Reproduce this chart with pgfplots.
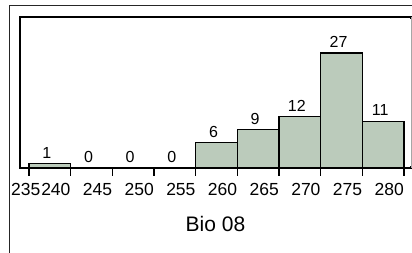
\documentclass[border=0pt]{standalone}
\usepackage{pgfplots}
\pgfplotsset{compat=1.18}
\usepackage{fontspec}
\setmainfont{Liberation Sans}
\definecolor{barfill}{RGB}{187,203,187}
\begin{document}
\begin{tikzpicture}
\useasboundingbox (0,0) rectangle (412pt,253pt);
\draw[line width=1pt, black!85] (9pt,0) -- (9pt,247pt) -- (412pt,247pt);
\begin{axis}[
  at={(20pt,85pt)}, anchor=south west,
  scale only axis, width=391pt, height=151pt,
  xmin=233.92, xmax=280.84, ymin=0, ymax=35.45,
  axis line style={line width=1.3pt, black},
  xtick={240,245,...,280},
  extra x ticks={235},
  extra x tick style={xticklabel style={anchor=north west, xshift=-18pt}},
  xtick pos=bottom, ytick=\empty,
  tick align=outside, major tick length=8pt,
  tick style={line width=1.2pt, black},
  xticklabel style={anchor=north east, inner sep=0pt, yshift=-7pt, font=\fontsize{17.5}{20}\selectfont},
  /pgf/number format/assume math mode=true,
  /pgf/number format/1000 sep={},
  xlabel={Bio 08},
  xlabel style={at={(axis description cs:0.5,0)}, anchor=base, yshift=-64pt, font=\fontsize{21}{24}\selectfont, inner sep=0pt},
  clip=false,
]
\addplot[ybar interval, fill=barfill, draw=black, line width=1.2pt] coordinates {
(235,1) (240,0) (245,0) (250,0) (255,6) (260,9) (265,12) (270,27) (275,11) (280,11)};
\addplot[draw=none, mark=none, nodes near coords,
  every node near coord/.style={anchor=south, inner sep=0pt, yshift=5pt, xshift=-3pt, font=\fontsize{16}{19}\selectfont}]
  coordinates {(237.5,1) (242.5,0) (247.5,0) (252.5,0) (257.5,6) (262.5,9) (267.5,12) (272.5,27) (277.5,11)};
\draw[white, line width=1.4pt] (rel axis cs:1,0.01) -- (rel axis cs:1,0.99);
\draw[black!35, line width=0.8pt] (rel axis cs:1,0) -- (rel axis cs:1,1);
\end{axis}
\end{tikzpicture}
\end{document}
